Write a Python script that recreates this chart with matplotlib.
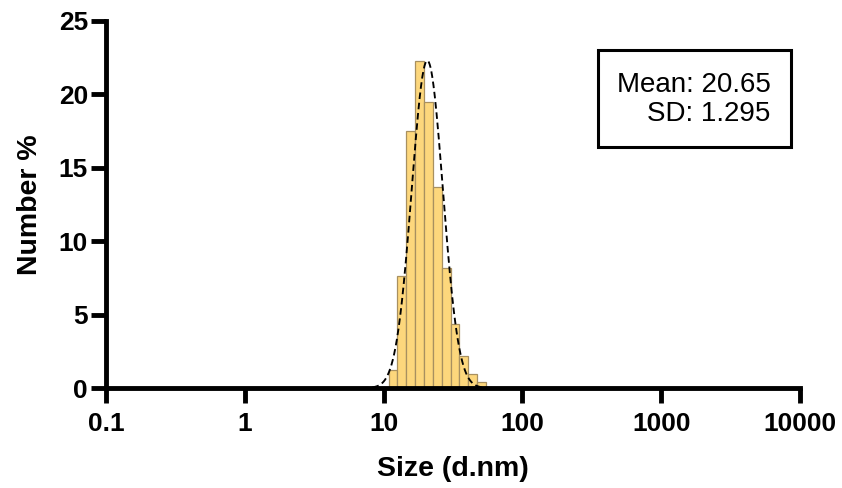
import numpy as np
import matplotlib.pyplot as plt
from matplotlib.patches import Rectangle

# DLS size distribution by number
sizes = np.array([11.7, 13.54, 15.69, 18.17, 21.04, 24.36, 28.21, 32.67, 37.84, 43.82, 50.75])
number_pct = np.array([1.25, 7.6, 17.5, 22.25, 19.45, 13.7, 8.2, 4.35, 2.15, 0.97, 0.39])

# log-normal fit parameters shown in the box
fit_mean = 20.65
fit_sd = 1.295
fit_peak = 22.3

xticks = [0.1, 1, 10, 100, 1000, 10000]
xtick_labels = ['0.1', '1', '10', '100', '1000', '10000']
yticks = [0, 5, 10, 15, 20, 25]

plt.rcParams['font.family'] = ['Liberation Sans', 'DejaVu Sans']

fig = plt.figure(figsize=(8.42, 4.88), dpi=100)
ax = fig.add_axes([0.1259, 0.2049, 0.8242, 0.7521])

# bar edges halfway (in log space) between neighbouring sizes
logs = np.log10(sizes)
step = np.diff(logs).mean()
edges = np.concatenate([[logs[0] - step / 2], (logs[:-1] + logs[1:]) / 2, [logs[-1] + step / 2]])
edges = 10 ** edges
ax.bar(edges[:-1], number_pct, width=np.diff(edges), align='edge',
       color='#fdd77c', edgecolor='#a89060', linewidth=0.9, zorder=2)

# dashed log-normal fit
xs = np.logspace(np.log10(7), np.log10(60), 300)
ys = fit_peak * np.exp(-0.5 * ((np.log10(xs) - np.log10(fit_mean)) / np.log10(fit_sd)) ** 2)
ax.plot(xs, ys, color='black', linestyle=(0, (3.5, 2)), linewidth=1.35, zorder=3)

ax.set_xscale('log')
ax.set_xlim(0.1, 10000)
ax.set_ylim(0, 25)
ax.set_xticks(xticks)
ax.set_xticklabels(xtick_labels)
ax.minorticks_off()
ax.set_yticks(yticks)

for s in ['top', 'right']:
    ax.spines[s].set_visible(False)
for s in ['left', 'bottom']:
    ax.spines[s].set_linewidth(3.5)
ax.tick_params(axis='both', width=3.5, length=11, labelsize=19, direction='out')
ax.tick_params(axis='x', pad=6)
ax.tick_params(axis='y', pad=2)
for lbl in ax.get_xticklabels() + ax.get_yticklabels():
    lbl.set_fontweight('bold')

ax.set_xlabel('Size (d.nm)', fontsize=20.5, fontweight='bold', labelpad=15)
ax.set_ylabel('Number %', fontsize=20.5, fontweight='bold', labelpad=11)

# fit summary box
ax.add_patch(Rectangle((0.709, 0.657), 0.278, 0.264, transform=ax.transAxes,
                       facecolor='white', edgecolor='black', linewidth=2.2,
                       clip_on=False, zorder=4))
ax.text(0.958, 0.807, 'Mean: 20.65', transform=ax.transAxes, ha='right',
        va='baseline', fontsize=20, zorder=5)
ax.text(0.958, 0.728, 'SD: 1.295', transform=ax.transAxes, ha='right',
        va='baseline', fontsize=20, zorder=5)

fig.savefig('out.png', dpi=100)
